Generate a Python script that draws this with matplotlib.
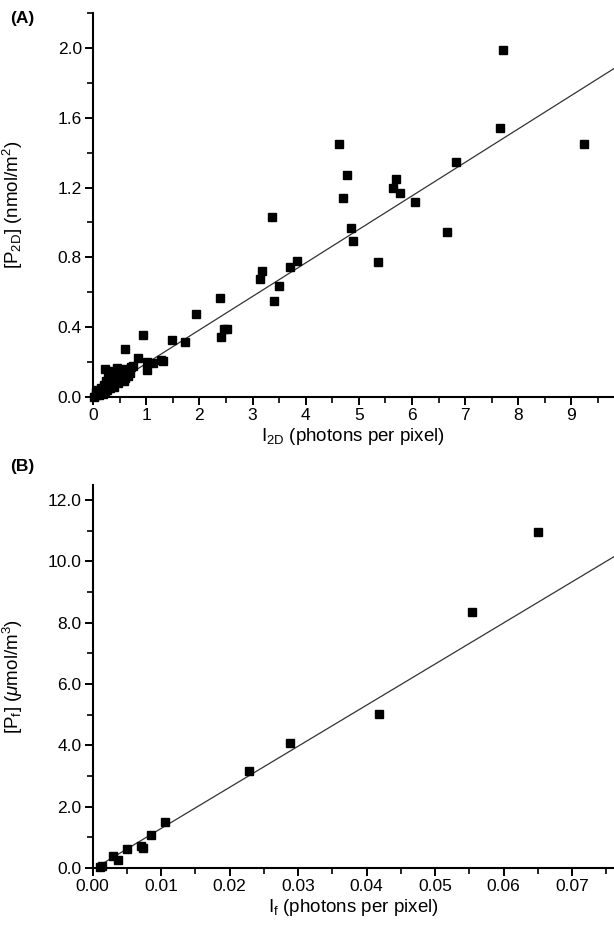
import matplotlib
matplotlib.use("Agg")
import matplotlib.pyplot as plt
from matplotlib.ticker import MultipleLocator, FormatStrFormatter

plt.rcParams['font.family'] = ['Liberation Sans', 'DejaVu Sans']
plt.rcParams['mathtext.fontset'] = 'custom'
plt.rcParams['mathtext.rm'] = 'Liberation Sans'
plt.rcParams['mathtext.it'] = 'Liberation Sans:italic'

# panel A: 2D intensity vs surface concentration
i2d = [7.71, 7.65, 9.24, 4.62, 6.83, 4.78, 5.70, 5.65, 5.77, 4.71, 6.05, 3.37,
       4.86, 4.89, 6.65, 5.36, 3.83, 3.71, 3.17, 3.14, 3.50, 3.41, 2.38, 1.94,
       2.41, 2.46, 2.52, 1.73, 1.49, 0.94, 0.60, 0.85, 1.02, 1.13, 1.01, 1.32,
       1.28, 0.225, 0.76,
       0.02, 0.05, 0.08, 0.10, 0.12, 0.15, 0.18, 0.20, 0.22, 0.25, 0.27, 0.30,
       0.32, 0.35, 0.37, 0.40, 0.42, 0.45, 0.47, 0.50, 0.52, 0.55, 0.58, 0.60,
       0.65, 0.70, 0.35, 0.40, 0.45, 0.50, 0.30, 0.38, 0.55, 0.62, 0.10, 0.05,
       0.15, 0.20, 0.25, 0.28, 0.33, 0.60, 0.67, 0.72]
p2d = [1.99, 1.543, 1.450, 1.448, 1.348, 1.270, 1.251, 1.199, 1.169, 1.142, 1.117, 1.03,
       0.968, 0.894, 0.947, 0.774, 0.779, 0.747, 0.720, 0.676, 0.636, 0.550, 0.569, 0.474,
       0.346, 0.392, 0.388, 0.313, 0.327, 0.354, 0.277, 0.225, 0.199, 0.193, 0.155, 0.206,
       0.213, 0.159, 0.178,
       0.00, 0.01, 0.015, 0.02, 0.01, 0.03, 0.02, 0.04, 0.03, 0.05, 0.04, 0.06,
       0.05, 0.07, 0.08, 0.06, 0.09, 0.10, 0.08, 0.11, 0.10, 0.12, 0.09, 0.13,
       0.12, 0.14, 0.12, 0.13, 0.165, 0.14, 0.10, 0.15, 0.15, 0.16, 0.04, 0.03,
       0.05, 0.07, 0.09, 0.11, 0.08, 0.11, 0.15, 0.17]
fit_a = (0.192, 0.0)   # slope, intercept

# panel B: free intensity vs bulk concentration
i_f = [0.065, 0.0553, 0.0418, 0.0288, 0.02275, 0.01052, 0.00844, 0.00728, 0.0071,
       0.00495, 0.0030, 0.00364, 0.0014, 0.0011]
p_f = [10.95, 8.35, 5.02, 4.08, 3.16, 1.50, 1.09, 0.65, 0.72,
       0.62, 0.38, 0.27, 0.07, 0.03]
fit_b = (134.0, -0.05)

fig = plt.figure(figsize=(6.14, 9.33), dpi=100)
axA = fig.add_axes([0.1515, 0.5745, 0.8485, 0.4116])
axB = fig.add_axes([0.1510, 0.0697, 0.8490, 0.4110])


def style(ax):
    for s in ['top', 'right']:
        ax.spines[s].set_visible(False)
    for s in ['left', 'bottom']:
        ax.spines[s].set_linewidth(1.5)
    ax.tick_params(which='major', direction='out', length=6, width=1.4,
                   labelsize=12.5, pad=2)
    ax.tick_params(which='minor', direction='out', length=4, width=1.2)


# (A)
axA.plot([0, 9.8], [fit_a[1], fit_a[0] * 9.8 + fit_a[1]], color='#333333', lw=0.9)
axA.plot(i2d, p2d, 's', color='black', ms=6, clip_on=False, zorder=3)
axA.set_xlim(0, 9.8)
axA.set_ylim(0, 2.2)
axA.xaxis.set_major_locator(MultipleLocator(1))
axA.xaxis.set_minor_locator(MultipleLocator(0.5))
axA.yaxis.set_major_locator(MultipleLocator(0.4))
axA.yaxis.set_minor_locator(MultipleLocator(0.2))
axA.yaxis.set_major_formatter(FormatStrFormatter('%.1f'))
style(axA)
axA.set_xlabel(r'I$_{\mathrm{2D}}$ (photons per pixel)', fontsize=13.5, labelpad=2)
axA.set_ylabel(r'[P$_{\mathrm{2D}}$] (nmol/m$^2$)', fontsize=13.5)
axA.yaxis.set_label_coords(-0.13, 0.5)
fig.text(0.016, 0.98, '(A)', fontsize=12.5, fontweight='bold', va='center')

# (B)
axB.plot([0, 0.0765], [fit_b[1], fit_b[0] * 0.0765 + fit_b[1]], color='#333333', lw=0.9)
axB.plot(i_f, p_f, 's', color='black', ms=6, clip_on=False, zorder=3)
axB.set_xlim(0, 0.0761)
axB.set_ylim(0, 12.5)
axB.xaxis.set_major_locator(MultipleLocator(0.01))
axB.xaxis.set_minor_locator(MultipleLocator(0.005))
axB.xaxis.set_major_formatter(FormatStrFormatter('%.2f'))
axB.yaxis.set_major_locator(MultipleLocator(2))
axB.yaxis.set_minor_locator(MultipleLocator(1))
axB.yaxis.set_major_formatter(FormatStrFormatter('%.1f'))
style(axB)
axB.set_xlabel(r'I$_{\mathrm{f}}$ (photons per pixel)', fontsize=13.5, labelpad=2)
axB.set_ylabel(r'[P$_{\mathrm{f}}$] ($\mu$mol/m$^3$)', fontsize=13.5)
axB.yaxis.set_label_coords(-0.13, 0.5)
fig.text(0.016, 0.5, '(B)', fontsize=12.5, fontweight='bold', va='center')

fig.savefig('out.png', dpi=100)
